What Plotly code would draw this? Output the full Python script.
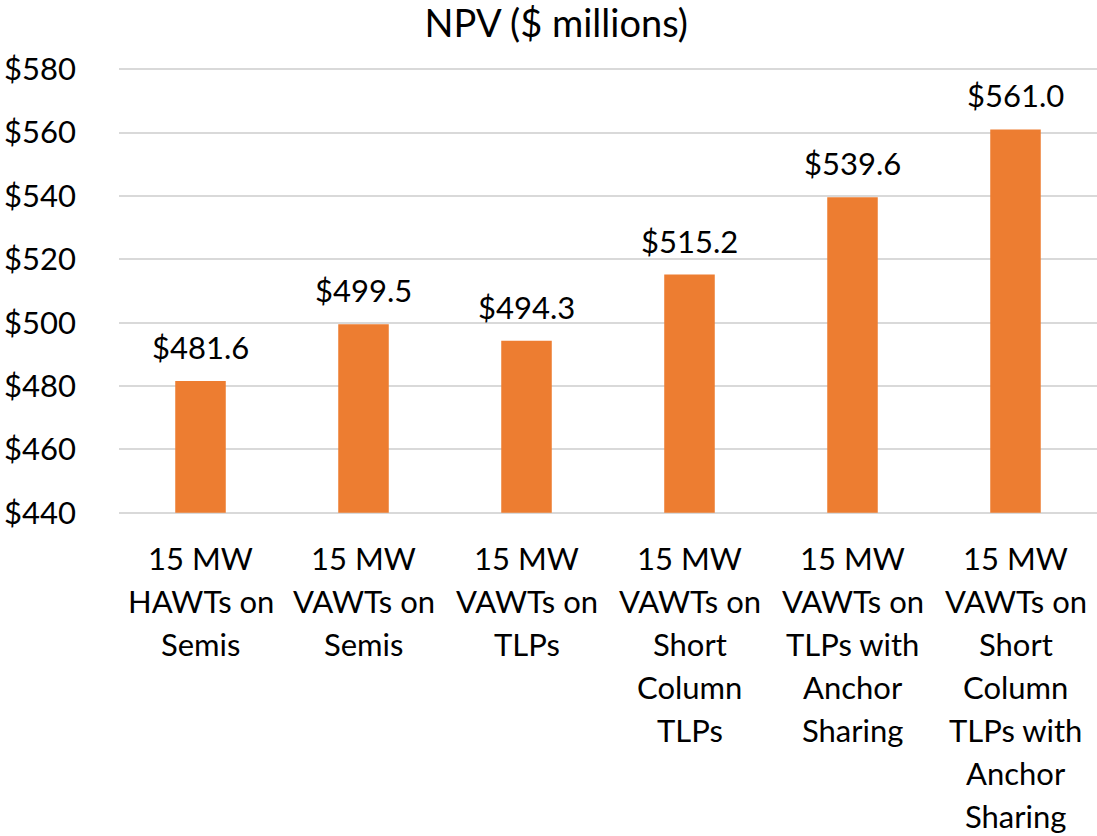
import plotly.graph_objects as go

categories = [
    "15 MW<br>HAWTs on<br>Semis",
    "15 MW<br>VAWTs on<br>Semis",
    "15 MW<br>VAWTs on<br>TLPs",
    "15 MW<br>VAWTs on<br>Short<br>Column<br>TLPs",
    "15 MW<br>VAWTs on<br>TLPs with<br>Anchor<br>Sharing",
    "15 MW<br>VAWTs on<br>Short<br>Column<br>TLPs with<br>Anchor<br>Sharing",
]
npv = [481.6, 499.5, 494.3, 515.2, 539.6, 561.0]
value_labels = ["$481.6", "$499.5", "$494.3", "$515.2", "$539.6", "$561.0"]
y_ticks = [440, 460, 480, 500, 520, 540, 560, 580]
y_tick_labels = ["$440", "$460", "$480", "$500", "$520", "$540", "$560", "$580"]
y_floor = 440

FONT = "Lato, 'Open Sans', sans-serif"
TXT = dict(size=31, color="#000000", family=FONT)

# bars start from the axis floor so they end on the bottom gridline
fig = go.Figure(go.Bar(
    x=categories,
    y=[v - y_floor for v in npv],
    base=y_floor,
    marker=dict(color="#ED7D31", line=dict(width=0)),
    customdata=npv,
    hovertemplate="%{customdata}<extra></extra>",
))

# value labels above the bars
for cat, v, lab in zip(categories, npv, value_labels):
    fig.add_annotation(x=cat, y=v, text=lab, showarrow=False,
                       xref="x", yref="y", yanchor="middle", yshift=34,
                       font=TXT)

# category labels, one line at a time so line spacing matches
LINE_GAP = 43
for cat in categories:
    for j, line in enumerate(cat.split("<br>")):
        fig.add_annotation(x=cat, y=0, text=line, showarrow=False,
                           xref="x", yref="paper", yanchor="middle",
                           yshift=-(42 + j * LINE_GAP), font=TXT)

fig.update_layout(
    width=1097, height=836,
    margin=dict(l=119, r=0, t=66, b=320),
    paper_bgcolor="white", plot_bgcolor="white",
    title=dict(text="NPV ($ millions)", x=0.507, xanchor="center",
               y=1 - 24 / 836, yanchor="middle",
               font=dict(size=38, color="#000000", family=FONT)),
    bargap=0.69,
    showlegend=False,
    font=dict(family=FONT, size=31, color="#000000"),
)
fig.update_yaxes(
    range=[439, 581], tickvals=y_ticks, ticktext=y_tick_labels,
    showgrid=True, gridcolor="#D9D9D9", gridwidth=2,
    zeroline=False, showline=False, ticks="",
    ticklabelstandoff=42,
    tickfont=TXT,
)
fig.update_xaxes(
    showline=False, ticks="", showgrid=False, showticklabels=False,
)

fig.write_html("out.html", config={"displayModeBar": False},
               post_script="document.body.style.margin='0';")
